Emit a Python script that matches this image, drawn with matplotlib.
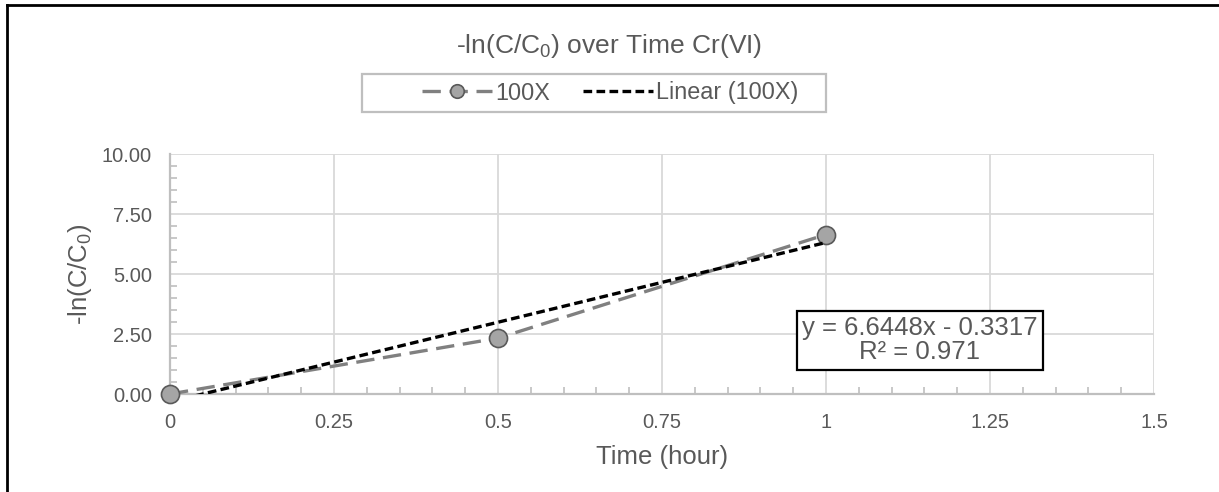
import numpy as np
import matplotlib
matplotlib.use("Agg")
import matplotlib.pyplot as plt
from matplotlib.lines import Line2D
from matplotlib.patches import Rectangle
from matplotlib.ticker import MultipleLocator, FixedLocator, FuncFormatter

# ---- data ----
time_h = [0.0, 0.5, 1.0]
neg_ln = [0.0, 2.3273, 6.6448]
series_label = "100X"
trend_label = "Linear (100X)"
x_ticks = [0, 0.25, 0.5, 0.75, 1, 1.25, 1.5]
x_tick_labels = ["0", "0.25", "0.5", "0.75", "1", "1.25", "1.5"]
y_ticks = [0.0, 2.5, 5.0, 7.5, 10.0]

plt.rcParams['font.family'] = ['Liberation Sans', 'DejaVu Sans']
plt.rcParams['mathtext.fontset'] = 'custom'
plt.rcParams['mathtext.rm'] = 'Liberation Sans'
plt.rcParams['mathtext.it'] = 'Liberation Sans'

TXT = '#595959'
W, H = 1219, 492
fig = plt.figure(figsize=(W / 100, H / 100), dpi=100)
ax = fig.add_axes([170 / W, 1 - 394 / H, (1154 - 170) / W, (394 - 154) / H])

# series
ax.plot(time_h, neg_ln, color='#808080', lw=2.4, ls=(0, (5.5, 2.6)),
        marker='o', ms=13, mfc='#a5a5a5', mec='#595959', mew=1.2,
        label=series_label, zorder=3, clip_on=False)

# linear trendline
slope, intercept = np.polyfit(time_h, neg_ln, 1)
xt = np.array([min(time_h), max(time_h)])
ax.plot(xt, slope * xt + intercept, color='black', lw=2.4, ls=(0, (2.6, 1.3)),
        label=trend_label, zorder=4)

pred = slope * np.array(time_h) + intercept
r2 = 1 - np.sum((np.array(neg_ln) - pred) ** 2) / np.sum((np.array(neg_ln) - np.mean(neg_ln)) ** 2)

ax.set_xlim(0, 1.5)
ax.set_ylim(0, 10)
ax.xaxis.set_major_locator(FixedLocator(x_ticks))
ax.set_xticklabels(x_tick_labels)
ax.yaxis.set_major_locator(FixedLocator(y_ticks))
ax.yaxis.set_major_formatter(FuncFormatter(lambda v, p: f"{v:.2f}"))
ax.xaxis.set_minor_locator(MultipleLocator(0.05))
ax.yaxis.set_minor_locator(MultipleLocator(0.5))
ax.tick_params(which='major', length=0, labelsize=14.5, colors=TXT)
ax.tick_params(axis='y', which='major', pad=13)
ax.tick_params(axis='x', which='major', pad=14)
ax.tick_params(which='minor', direction='in', length=5, width=1.2, color='#bfbfbf')
ax.grid(True, which='major', color='#d9d9d9', lw=1.3)
ax.set_axisbelow(True)
for s in ['top', 'right']:
    ax.spines[s].set_visible(False)
for s in ['left', 'bottom']:
    ax.spines[s].set_color('#bfbfbf')
    ax.spines[s].set_linewidth(1.6)

ax.set_xlabel("Time (hour)", fontsize=18.5, color=TXT, labelpad=9)
ax.set_ylabel(r"-ln(C/C$_\mathregular{0}$)", fontsize=18.5, color=TXT)
ax.yaxis.set_label_coords((94 - 170) / (1154 - 170), 0.5)

fig.text(0.5, 1 - 46 / H, r"-ln(C/C$_\mathregular{0}$) over Time Cr(VI)", ha='center', va='center',
         fontsize=19, color=TXT)

leg = fig.legend(loc='center', bbox_to_anchor=(610 / W, 1 - 93 / H), ncol=2, frameon=False,
                 fontsize=16.8, handlelength=3.0, columnspacing=1.4, handletextpad=0.15,
                 borderpad=0.35, markerscale=0.75)
for t in leg.get_texts():
    t.set_color(TXT)
# legend frame
fig.add_artist(Rectangle((362 / W, 1 - 112 / H), (826 - 362) / W, (112 - 74) / H,
                         transform=fig.transFigure, fill=False, ec='#bfbfbf', lw=1.6))

# equation box
eq = f"y = {slope:.4f}x - {abs(intercept):.4f}\nR\u00b2 = {r2:.3f}"
ax.text(1.143, 2.23, eq, ha='center', va='center', fontsize=18.5, color=TXT,
        linespacing=1.0, transform=ax.transData,
        bbox=dict(boxstyle='square,pad=0.2', fc='white', ec='black', lw=1.6), zorder=5)

# figure border (left and top)
fig.add_artist(Line2D([7 / W, 7 / W], [0, 1 - 5 / H], color='black', lw=2, transform=fig.transFigure))
fig.add_artist(Line2D([7 / W, 1], [1 - 5 / H, 1 - 5 / H], color='black', lw=2, transform=fig.transFigure))

fig.savefig("out.png", dpi=100)
